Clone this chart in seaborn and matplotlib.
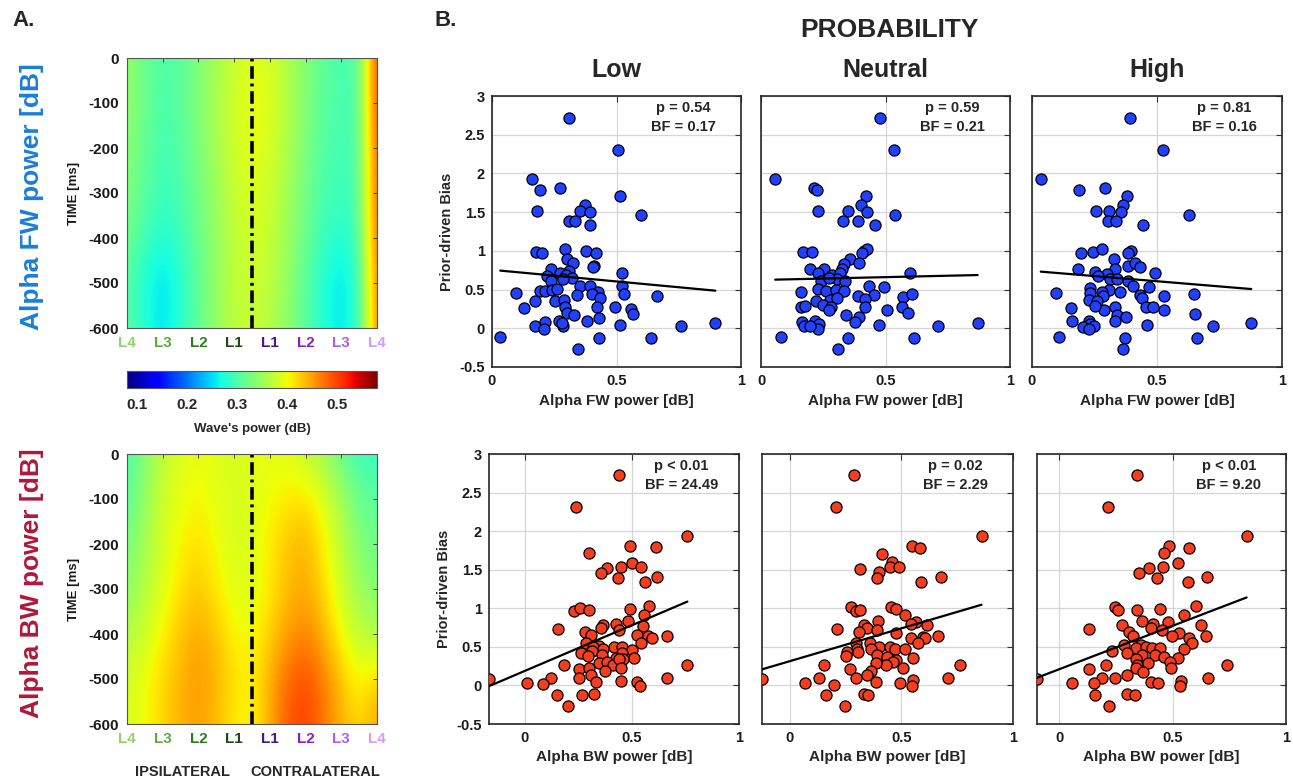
import numpy as np
import pandas as pd
import matplotlib
matplotlib.use('Agg')
import matplotlib.pyplot as plt
import seaborn as sns

# ---------------- Panel A: wave power maps (rows: TIME 0..-600 ms, cols: L4..L1 | L1..L4 at half steps)
time_ticks = [0, -100, -200, -300, -400, -500, -600]
time_labels = ['0', '-100', '-200', '-300', '-400', '-500', '-600']
layer_labels = ['L4', 'L3', 'L2', 'L1', 'L1', 'L2', 'L3', 'L4']
layer_colors = ['#8fd46a', '#5cab3a', '#2e7d1e', '#1d4d12',
                '#4a1790', '#8a1fd0', '#b060e8', '#d59aff']

fw_power = [
    [0.345, 0.32, 0.30, 0.31, 0.33, 0.355, 0.375, 0.39, 0.385, 0.36, 0.335, 0.31, 0.30, 0.30, 0.51],
    [0.345, 0.32, 0.30, 0.31, 0.335, 0.36, 0.38, 0.40, 0.39, 0.365, 0.335, 0.31, 0.30, 0.30, 0.51],
    [0.34, 0.315, 0.295, 0.305, 0.33, 0.355, 0.38, 0.395, 0.385, 0.36, 0.33, 0.305, 0.295, 0.30, 0.50],
    [0.335, 0.31, 0.29, 0.30, 0.325, 0.35, 0.375, 0.39, 0.38, 0.355, 0.325, 0.30, 0.29, 0.30, 0.495],
    [0.325, 0.295, 0.275, 0.29, 0.32, 0.345, 0.37, 0.385, 0.375, 0.35, 0.32, 0.29, 0.275, 0.295, 0.49],
    [0.31, 0.27, 0.25, 0.275, 0.315, 0.345, 0.37, 0.38, 0.37, 0.345, 0.31, 0.275, 0.25, 0.285, 0.48],
    [0.315, 0.275, 0.255, 0.28, 0.315, 0.345, 0.37, 0.375, 0.365, 0.34, 0.31, 0.275, 0.255, 0.285, 0.475],
]
bw_power = [
    [0.30, 0.335, 0.37, 0.39, 0.395, 0.39, 0.385, 0.39, 0.395, 0.39, 0.375, 0.35, 0.32, 0.29, 0.29],
    [0.31, 0.345, 0.38, 0.395, 0.405, 0.395, 0.385, 0.39, 0.40, 0.41, 0.415, 0.39, 0.355, 0.32, 0.31],
    [0.325, 0.355, 0.385, 0.405, 0.415, 0.40, 0.385, 0.39, 0.41, 0.43, 0.44, 0.41, 0.37, 0.335, 0.32],
    [0.34, 0.365, 0.39, 0.415, 0.43, 0.41, 0.39, 0.39, 0.41, 0.435, 0.445, 0.42, 0.38, 0.35, 0.335],
    [0.36, 0.38, 0.405, 0.43, 0.445, 0.43, 0.405, 0.40, 0.425, 0.45, 0.465, 0.44, 0.40, 0.37, 0.36],
    [0.38, 0.40, 0.42, 0.44, 0.455, 0.44, 0.415, 0.405, 0.44, 0.48, 0.495, 0.47, 0.43, 0.40, 0.42],
    [0.385, 0.40, 0.42, 0.44, 0.45, 0.435, 0.41, 0.40, 0.445, 0.49, 0.50, 0.475, 0.44, 0.42, 0.45],
]
cbar_ticks = [0.1, 0.2, 0.3, 0.4, 0.5]
cbar_labels = ['0.1', '0.2', '0.3', '0.4', '0.5']

# ---------------- Panel B: scatter data
fw_low_x = [0.308, 0.506, 0.161, 0.194, 0.272, 0.513, 0.181, 0.375, 0.352, 0.395, 0.308, 0.335, 0.392, 0.598,
            0.178, 0.202, 0.295, 0.379, 0.419, 0.301, 0.325, 0.408, 0.406, 0.238, 0.522, 0.308, 0.274, 0.221,
            0.299, 0.323, 0.284, 0.236, 0.098, 0.191, 0.214, 0.241, 0.261, 0.352, 0.392, 0.426, 0.522, 0.531,
            0.402, 0.435, 0.340, 0.174, 0.254, 0.288, 0.127, 0.295, 0.301, 0.328, 0.422, 0.495, 0.558, 0.565,
            0.663, 0.174, 0.214, 0.268, 0.285, 0.281, 0.207, 0.382, 0.428, 0.513, 0.759, 0.897, 0.033, 0.428,
            0.640, 0.344]
fw_low_y = [2.72, 2.30, 1.93, 1.78, 1.81, 1.71, 1.52, 1.59, 1.52, 1.50, 1.38, 1.39, 1.34, 1.46,
            0.98, 0.97, 1.02, 1.00, 0.97, 0.90, 0.84, 0.81, 0.79, 0.77, 0.71, 0.74, 0.72, 0.68,
            0.69, 0.65, 0.64, 0.61, 0.45, 0.48, 0.48, 0.50, 0.51, 0.54, 0.55, 0.47, 0.54, 0.44,
            0.44, 0.39, 0.43, 0.35, 0.35, 0.37, 0.26, 0.27, 0.20, 0.17, 0.27, 0.27, 0.25, 0.19,
            0.42, 0.03, 0.08, 0.10, 0.03, 0.07, -0.01, 0.10, 0.13, 0.04, 0.03, 0.07, -0.11, -0.13,
            -0.13, -0.27]
fw_neu_x = [0.479, 0.536, 0.057, 0.211, 0.225, 0.420, 0.401, 0.229, 0.348, 0.425, 0.539, 0.328, 0.388, 0.459,
            0.167, 0.205, 0.412, 0.425, 0.405, 0.356, 0.332, 0.393, 0.195, 0.255, 0.325, 0.599, 0.229, 0.285,
            0.318, 0.305, 0.242, 0.338, 0.275, 0.162, 0.229, 0.262, 0.301, 0.334, 0.432, 0.492, 0.388, 0.452,
            0.572, 0.606, 0.418, 0.222, 0.278, 0.305, 0.249, 0.281, 0.275, 0.162, 0.178, 0.418, 0.505, 0.566,
            0.590, 0.342, 0.394, 0.376, 0.165, 0.171, 0.215, 0.233, 0.229, 0.198, 0.472, 0.710, 0.870, 0.082,
            0.348, 0.616, 0.309]
fw_neu_y = [2.72, 2.30, 1.93, 1.81, 1.78, 1.71, 1.59, 1.52, 1.52, 1.50, 1.46, 1.39, 1.38, 1.34,
            0.98, 0.98, 1.00, 1.02, 0.97, 0.90, 0.83, 0.84, 0.77, 0.77, 0.77, 0.72, 0.72, 0.69,
            0.72, 0.64, 0.61, 0.61, 0.65, 0.47, 0.51, 0.48, 0.50, 0.48, 0.54, 0.53, 0.42, 0.43,
            0.41, 0.44, 0.38, 0.35, 0.37, 0.39, 0.30, 0.27, 0.23, 0.27, 0.29, 0.28, 0.23, 0.27,
            0.20, 0.17, 0.14, 0.08, 0.08, 0.03, 0.10, 0.06, -0.01, 0.03, 0.04, 0.03, 0.07, -0.11,
            -0.13, -0.12, -0.27]
fw_high_x = [0.392, 0.523, 0.035, 0.189, 0.291, 0.378, 0.365, 0.255, 0.309, 0.356, 0.626, 0.305, 0.336, 0.445,
             0.194, 0.245, 0.278, 0.394, 0.385, 0.329, 0.385, 0.412, 0.432, 0.332, 0.184, 0.251, 0.492, 0.298,
             0.265, 0.311, 0.341, 0.385, 0.405, 0.469, 0.231, 0.309, 0.095, 0.278, 0.231, 0.350, 0.432, 0.529,
             0.646, 0.438, 0.285, 0.226, 0.261, 0.287, 0.251, 0.154, 0.332, 0.456, 0.483, 0.528, 0.650, 0.338,
             0.374, 0.332, 0.158, 0.227, 0.231, 0.247, 0.202, 0.229, 0.459, 0.723, 0.877, 0.106, 0.372, 0.659,
             0.362]
fw_high_y = [2.72, 2.30, 1.93, 1.78, 1.81, 1.71, 1.59, 1.52, 1.52, 1.50, 1.46, 1.38, 1.39, 1.34,
             0.97, 0.98, 1.02, 1.00, 0.97, 0.90, 0.81, 0.84, 0.79, 0.77, 0.77, 0.73, 0.71, 0.70,
             0.67, 0.64, 0.64, 0.61, 0.55, 0.53, 0.52, 0.50, 0.46, 0.47, 0.46, 0.47, 0.43, 0.42,
             0.44, 0.39, 0.42, 0.36, 0.35, 0.23, 0.29, 0.26, 0.27, 0.27, 0.28, 0.23, 0.19, 0.17,
             0.14, 0.09, 0.09, 0.09, 0.05, 0.03, 0.02, -0.01, 0.04, 0.03, 0.07, -0.11, -0.13, -0.13,
             -0.27]
bw_low_x = [0.438, 0.240, 0.759, 0.611, 0.492, 0.302, 0.500, 0.449, 0.542, 0.382, 0.356, 0.433, 0.619, 0.562,
            0.580, 0.491, 0.232, 0.258, 0.302, 0.557, 0.480, 0.424, 0.364, 0.356, 0.155, 0.438, 0.552, 0.279,
            0.310, 0.666, 0.526, 0.576, 0.596, 0.542, 0.286, 0.348, 0.317, 0.415, 0.454, 0.364, 0.500, 0.263,
            0.314, 0.454, 0.295, 0.362, 0.425, 0.508, 0.457, 0.181, 0.348, 0.384, 0.410, 0.759, 0.441, 0.252,
            0.299, 0.376, 0.449, 0.310, 0.252, 0.333, 0.449, 0.124, 0.085, 0.012, -0.167, 0.526, 0.539, 0.666,
            0.150, 0.266, 0.325, 0.204]
bw_low_y = [2.73, 2.31, 1.94, 1.79, 1.81, 1.72, 1.59, 1.53, 1.53, 1.52, 1.46, 1.39, 1.41, 1.34,
            1.03, 0.99, 0.97, 1.01, 0.98, 0.91, 0.84, 0.79, 0.78, 0.74, 0.73, 0.72, 0.77, 0.69,
            0.66, 0.64, 0.66, 0.64, 0.61, 0.55, 0.55, 0.51, 0.50, 0.50, 0.50, 0.47, 0.46, 0.42,
            0.45, 0.42, 0.38, 0.39, 0.36, 0.36, 0.34, 0.27, 0.29, 0.30, 0.27, 0.27, 0.34, 0.21,
            0.23, 0.19, 0.23, 0.14, 0.09, 0.04, 0.06, 0.09, 0.02, 0.03, 0.08, 0.04, -0.01, 0.09,
            -0.12, -0.13, -0.11, -0.27]
bw_neu_x = [0.287, 0.208, 0.859, 0.549, 0.582, 0.415, 0.460, 0.448, 0.488, 0.317, 0.400, 0.389, 0.677, 0.590,
            0.275, 0.452, 0.475, 0.299, 0.317, 0.516, 0.397, 0.567, 0.542, 0.614, 0.332, 0.213, 0.344, 0.389,
            0.310, 0.478, 0.665, 0.596, 0.605, 0.542, 0.295, 0.359, 0.575, 0.400, 0.449, 0.302, 0.365, 0.470,
            0.516, 0.257, 0.305, 0.254, 0.392, 0.437, 0.551, 0.478, 0.463, 0.433, 0.385, 0.153, 0.763, 0.509,
            0.268, 0.365, 0.347, 0.299, 0.130, 0.385, 0.494, 0.552, 0.708, 0.549, 0.070, 0.198, -0.124, 0.163,
            0.335, 0.350, 0.246]
bw_neu_y = [2.73, 2.31, 1.94, 1.81, 1.78, 1.71, 1.60, 1.54, 1.53, 1.51, 1.47, 1.39, 1.41, 1.34,
            1.02, 1.02, 0.99, 0.97, 0.98, 0.91, 0.84, 0.82, 0.79, 0.78, 0.78, 0.73, 0.74, 0.72,
            0.69, 0.68, 0.64, 0.63, 0.61, 0.62, 0.55, 0.55, 0.55, 0.50, 0.50, 0.47, 0.47, 0.47,
            0.47, 0.43, 0.43, 0.38, 0.39, 0.37, 0.36, 0.33, 0.30, 0.27, 0.29, 0.27, 0.27, 0.23,
            0.21, 0.19, 0.14, 0.09, 0.09, 0.04, 0.03, 0.07, 0.09, -0.01, 0.03, 0.01, 0.08, -0.12,
            -0.11, -0.13, -0.27]
bw_high_x = [0.344, 0.215, 0.826, 0.482, 0.573, 0.463, 0.522, 0.456, 0.395, 0.349, 0.431, 0.652, 0.569, 0.244,
             0.259, 0.342, 0.442, 0.602, 0.550, 0.365, 0.480, 0.412, 0.624, 0.278, 0.129, 0.404, 0.453, 0.307,
             0.529, 0.649, 0.497, 0.573, 0.325, 0.585, 0.285, 0.361, 0.230, 0.339, 0.380, 0.409, 0.442, 0.551,
             0.298, 0.365, 0.421, 0.461, 0.522, 0.339, 0.205, 0.344, 0.392, 0.490, 0.741, 0.339, 0.493, 0.132,
             0.371, 0.189, 0.246, 0.298, 0.404, 0.436, 0.538, 0.656, 0.531, 0.054, 0.152, -0.099, 0.158, 0.298,
             0.335, 0.218]
bw_high_y = [2.73, 2.31, 1.94, 1.81, 1.78, 1.72, 1.59, 1.54, 1.52, 1.46, 1.39, 1.41, 1.34, 1.02,
             0.98, 0.98, 0.99, 1.03, 0.91, 0.84, 0.82, 0.80, 0.78, 0.78, 0.73, 0.74, 0.72, 0.69,
             0.68, 0.64, 0.64, 0.62, 0.64, 0.55, 0.53, 0.53, 0.45, 0.48, 0.50, 0.49, 0.48, 0.47,
             0.42, 0.39, 0.40, 0.37, 0.36, 0.34, 0.27, 0.27, 0.29, 0.30, 0.27, 0.23, 0.23, 0.21,
             0.18, 0.09, 0.09, 0.13, 0.04, 0.03, 0.06, 0.09, -0.01, 0.03, 0.03, 0.08, -0.12, -0.11,
             -0.13, -0.27]

# regression line parameters
fw_slope = [-0.30, 0.073, -0.267]
fw_intercept = [0.755, 0.624, 0.741]
bw_slope = [1.184, 0.852, 1.125]
bw_intercept = [0.188, 0.314, 0.211]

fw_p = ['p = 0.54', 'p = 0.59', 'p = 0.81']
fw_bf = ['BF = 0.17', 'BF = 0.21', 'BF = 0.16']
bw_p = ['p < 0.01', 'p = 0.02', 'p < 0.01']
bw_bf = ['BF = 24.49', 'BF = 2.29', 'BF = 9.20']

conditions = ['Low', 'Neutral', 'High']
bias_ticks = [-0.5, 0, 0.5, 1, 1.5, 2, 2.5, 3]
bias_labels = ['-0.5', '0', '0.5', '1', '1.5', '2', '2.5', '3']
power_ticks = [0, 0.5, 1]
power_labels = ['0', '0.5', '1']

# ---------------- style
sns.set_theme(style='white')
plt.rcParams['font.family'] = ['Liberation Sans', 'DejaVu Sans']
plt.rcParams['font.weight'] = 'bold'
plt.rcParams['axes.labelweight'] = 'bold'
plt.rcParams['axes.unicode_minus'] = False

W, H = 1293, 779
fig = plt.figure(figsize=(W / 100, H / 100), dpi=100)
fig.patch.set_facecolor('white')


def px_axes(x0, y0, x1, y1):
    return fig.add_axes([x0 / W, 1 - y1 / H, (x1 - x0) / W, (y1 - y0) / H])


def box(ax, lw=1.1, color='#262626'):
    for s in ax.spines.values():
        s.set_visible(True)
        s.set_color(color)
        s.set_linewidth(lw)


# ---------------- Panel A
maps = [(fw_power, (58, 328)), (bw_power, (454, 724))]
im = None
for k, (grid, (y0, y1)) in enumerate(maps):
    ax = px_axes(127, y0, 377, y1)
    arr = np.array(grid)
    ncol = arr.shape[1]
    step = (len(layer_labels) - 1) / (ncol - 1)
    im = ax.imshow(arr, cmap='jet', vmin=0.08, vmax=0.58, origin='upper', aspect='auto',
                   interpolation='bicubic',
                   extent=[-step / 2, len(layer_labels) - 1 + step / 2,
                           time_ticks[-1] - 50, time_ticks[0] + 50])
    ax.set_xlim(0, len(layer_labels) - 1)
    ax.set_ylim(time_ticks[-1], time_ticks[0])
    ax.axvline((len(layer_labels) - 1) / 2, color='black', ls=(0, (3.5, 1.3, 0.8, 1.3)), lw=2.6)
    ax.set_xticks(range(len(layer_labels)))
    ax.set_xticklabels(layer_labels, fontsize=11)
    for lab, c in zip(ax.get_xticklabels(), layer_colors):
        lab.set_color(c)
    ax.set_yticks(time_ticks)
    ax.set_yticklabels(time_labels, fontsize=11, color='#1a1a1a')
    ax.tick_params(direction='in', top=True, right=True, length=3, width=0.7, color='#444444', pad=6)
    ax.set_ylabel('TIME [ms]', fontsize=9.5, labelpad=6, color='#1a1a1a')
    box(ax, lw=0.8, color='#555555')

cax = px_axes(127, 371, 377, 388)
cb = fig.colorbar(im, cax=cax, orientation='horizontal')
cb.set_ticks(cbar_ticks)
cb.set_ticklabels(cbar_labels)
cb.ax.tick_params(direction='in', length=3, width=0.7, labelsize=11, top=True, pad=7)
cb.outline.set_linewidth(0.8)
cb.outline.set_edgecolor('#555555')
cb.set_label("Wave's power (dB)", fontsize=9.5, fontweight='bold', labelpad=8)

fig.text(32 / W, 1 - 197 / H, 'Alpha FW power [dB]', rotation=90, ha='center', va='center',
         fontsize=19, fontweight='bold', color='#1a7fd8')
fig.text(32 / W, 1 - 583 / H, 'Alpha BW power [dB]', rotation=90, ha='center', va='center',
         fontsize=19, fontweight='bold', color='#b0183a')
fig.text(183 / W, 1 - 772 / H, 'IPSILATERAL', ha='center', va='center', fontsize=10.5, fontweight='bold')
fig.text(315 / W, 1 - 772 / H, 'CONTRALATERAL', ha='center', va='center', fontsize=10.5, fontweight='bold')
fig.text(24 / W, 1 - 21 / H, 'A.', ha='center', va='center', fontsize=16, fontweight='bold')
fig.text(446 / W, 1 - 21 / H, 'B.', ha='center', va='center', fontsize=16, fontweight='bold')

# ---------------- Panel B
fig.text(889 / W, 1 - 30 / H, 'PROBABILITY', ha='center', va='center', fontsize=19, fontweight='bold')

top_boxes = [(492, 96, 741, 367), (761, 96, 1010, 367), (1032, 96, 1282, 367)]
bot_boxes = [(489, 454, 739, 724), (762, 454, 1013, 724), (1037, 454, 1286, 724)]

rows = [
    dict(boxes=top_boxes, xs=[fw_low_x, fw_neu_x, fw_high_x], ys=[fw_low_y, fw_neu_y, fw_high_y],
         slope=fw_slope, icpt=fw_intercept, p=fw_p, bf=fw_bf, color='#2140ff',
         xlabel='Alpha FW power [dB]', fixed_xmin=True),
    dict(boxes=bot_boxes, xs=[bw_low_x, bw_neu_x, bw_high_x], ys=[bw_low_y, bw_neu_y, bw_high_y],
         slope=bw_slope, icpt=bw_intercept, p=bw_p, bf=bw_bf, color='#f53d1f',
         xlabel='Alpha BW power [dB]', fixed_xmin=False),
]

for r, row in enumerate(rows):
    for j in range(3):
        ax = px_axes(*row['boxes'][j])
        df = pd.DataFrame({'power': row['xs'][j], 'bias': row['ys'][j]})
        sns.scatterplot(data=df, x='power', y='bias', ax=ax, s=64, color=row['color'],
                        edgecolor='black', linewidth=0.9, zorder=3, legend=False)
        xl = np.array([df['power'].min(), df['power'].max()])
        ax.plot(xl, row['icpt'][j] + row['slope'][j] * xl, color='black', lw=1.6, zorder=4)
        xmin = power_ticks[0] if row['fixed_xmin'] else df['power'].min()
        ax.set_xlim(xmin, power_ticks[-1])
        ax.set_ylim(bias_ticks[0], bias_ticks[-1])
        ax.set_xticks(power_ticks)
        ax.set_xticklabels(power_labels, fontsize=10.5)
        ax.set_yticks(bias_ticks)
        if j == 0:
            ax.set_yticklabels(bias_labels, fontsize=10.5)
            ax.set_ylabel('Prior-driven Bias', fontsize=10.5, labelpad=4)
        else:
            ax.set_yticklabels([])
            ax.set_ylabel('')
        ax.set_xlabel(row['xlabel'], fontsize=11, labelpad=4)
        ax.grid(True, color='#d6d6d6', lw=0.9)
        ax.set_axisbelow(True)
        ax.tick_params(direction='in', top=True, right=True, length=4, width=0.8,
                       color='#333333', pad=5, labelcolor='#1a1a1a')
        box(ax, lw=1.2)
        ax.text(0.77, 0.955, row['p'][j], transform=ax.transAxes, ha='center', va='center',
                fontsize=10.5, fontweight='bold', zorder=5)
        ax.text(0.77, 0.885, row['bf'][j], transform=ax.transAxes, ha='center', va='center',
                fontsize=10.5, fontweight='bold', zorder=5)
        if r == 0:
            ax.set_title(conditions[j], fontsize=18, fontweight='bold', pad=14)

fig.savefig('out.png', dpi=100, facecolor='white')
